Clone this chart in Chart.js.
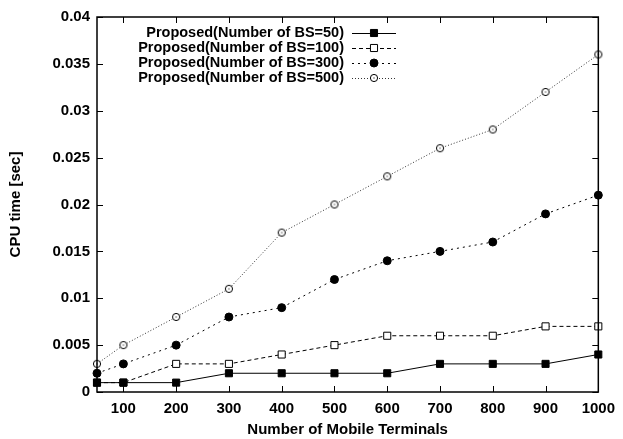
<!DOCTYPE html>
<html>
<head>
<meta charset="utf-8">
<script src="https://cdn.jsdelivr.net/npm/chart.js@4"></script>
<style>
  html, body { margin: 0; padding: 0; background: #fff; }
  #wrap { width: 623px; height: 439px; }
</style>
</head>
<body>
<div id="wrap"><canvas id="cpuChart" width="623" height="439"></canvas></div>
<script>
// data
const terminals = [50, 100, 200, 300, 400, 500, 600, 700, 800, 900, 1000];
const bs50  = [0.001, 0.001, 0.001, 0.002, 0.002, 0.002, 0.002, 0.003, 0.003, 0.003, 0.004];
const bs100 = [0.001, 0.001, 0.003, 0.003, 0.004, 0.005, 0.006, 0.006, 0.006, 0.007, 0.007];
const bs300 = [0.002, 0.003, 0.005, 0.008, 0.009, 0.012, 0.014, 0.015, 0.016, 0.019, 0.021];
const bs500 = [0.003, 0.005, 0.008, 0.011, 0.017, 0.020, 0.023, 0.026, 0.028, 0.032, 0.036];
const seriesNames = ["Proposed(Number of BS=50)", "Proposed(Number of BS=100)",
                     "Proposed(Number of BS=300)", "Proposed(Number of BS=500)"];
const xTicks = [100, 200, 300, 400, 500, 600, 700, 800, 900, 1000];
const yTicks = [0, 0.005, 0.01, 0.015, 0.02, 0.025, 0.03, 0.035, 0.04];

const FONT = "'Liberation Sans', Arial, sans-serif";

// open circle with a dot in the middle
function dotCircle() {
  const c = document.createElement("canvas");
  c.width = 10; c.height = 10;
  const g = c.getContext("2d");
  g.fillStyle = "#fff";
  g.strokeStyle = "#000";
  g.lineWidth = 1;
  g.beginPath(); g.arc(5, 5, 3.6, 0, Math.PI * 2); g.fill(); g.stroke();
  g.fillStyle = "#666";
  g.beginPath(); g.arc(5, 5, 0.8, 0, Math.PI * 2); g.fill();
  return c;
}

function pts(arr) {
  return arr.map((v, i) => ({ x: terminals[i], y: v }));
}

const ds = [
  { label: seriesNames[0], data: pts(bs50), borderColor: "#000", borderWidth: 1,
    pointStyle: "rect", pointRadius: 5, pointBackgroundColor: "#000", pointBorderColor: "#000", clip: false },
  { label: seriesNames[1], data: pts(bs100), borderColor: "#000", borderWidth: 1, borderDash: [4, 3],
    pointStyle: "rect", pointRadius: 5, pointBackgroundColor: "#fff", pointBorderColor: "#000", pointBorderWidth: 1, clip: false },
  { label: seriesNames[2], data: pts(bs300), borderColor: "#000", borderWidth: 1, borderDash: [2, 4],
    pointStyle: "circle", pointRadius: 4, pointBackgroundColor: "#000", pointBorderColor: "#000", clip: false },
  { label: seriesNames[3], data: pts(bs500), borderColor: "#333", borderWidth: 1, borderDash: [1, 2],
    pointStyle: dotCircle(), pointRadius: 4, clip: false }
];

// frame, inward ticks on all sides, and gnuplot-like key
const framePlugin = {
  id: "frame",
  afterDatasetsDraw(chart) {
    const { ctx, chartArea: a, scales } = chart;
    ctx.save();
    ctx.strokeStyle = "#000";
    ctx.lineWidth = 1.5;
    ctx.strokeRect(a.left, a.top, a.right - a.left, a.bottom - a.top);
    ctx.lineWidth = 1;
    ctx.beginPath();
    xTicks.forEach(t => {
      const px = Math.round(scales.x.getPixelForValue(t)) + 0.5;
      ctx.moveTo(px, a.bottom); ctx.lineTo(px, a.bottom - 6);
      ctx.moveTo(px, a.top); ctx.lineTo(px, a.top + 6);
    });
    yTicks.forEach(t => {
      const py = Math.round(scales.y.getPixelForValue(t)) + 0.5;
      ctx.moveTo(a.left, py); ctx.lineTo(a.left + 6, py);
      ctx.moveTo(a.right, py); ctx.lineTo(a.right - 6, py);
    });
    ctx.stroke();

    // key
    ctx.font = "bold 14.5px " + FONT;
    ctx.textAlign = "right";
    ctx.textBaseline = "middle";
    const rows = [33, 48, 63, 78];
    chart.data.datasets.forEach((d, i) => {
      const y = rows[i];
      ctx.fillStyle = "#000";
      ctx.fillText(d.label, 344, y);
      ctx.save();
      ctx.strokeStyle = d.borderColor;
      ctx.lineWidth = 1;
      ctx.setLineDash(d.borderDash || []);
      ctx.beginPath();
      ctx.moveTo(352, y + 0.5); ctx.lineTo(396, y + 0.5);
      ctx.stroke();
      ctx.restore();
      ctx.save();
      ctx.fillStyle = d.pointBackgroundColor || "#fff";
      ctx.strokeStyle = "#000";
      ctx.lineWidth = 1;
      Chart.helpers.drawPoint(ctx, {
        pointStyle: d.pointStyle, radius: d.pointRadius, rotation: 0, borderWidth: 1
      }, 374, y);
      ctx.restore();
    });
    ctx.restore();
  }
};

const tickFont = { family: FONT, size: 15, weight: "bold" };

new Chart(document.getElementById("cpuChart"), {
  type: "line",
  data: { datasets: ds },
  plugins: [framePlugin],
  options: {
    responsive: false,
    animation: false,
    layout: { padding: { top: 17, right: 21, left: 7, bottom: 0 } },
    plugins: { legend: { display: false }, tooltip: { enabled: false } },
    elements: { line: { tension: 0 } },
    scales: {
      x: {
        type: "linear", min: 50, max: 1000,
        afterBuildTicks: s => { s.ticks = xTicks.map(v => ({ value: v })); },
        grid: { display: false, drawTicks: false },
        border: { display: false },
        ticks: { color: "#000", font: tickFont, padding: 8, maxRotation: 0,
                 callback: v => String(v) },
        title: { display: true, text: "Number of Mobile Terminals", color: "#000",
                 font: tickFont, padding: { top: 6, bottom: 0 } },
        afterFit: s => { s.height = 47; }
      },
      y: {
        min: 0, max: 0.04,
        afterBuildTicks: s => { s.ticks = yTicks.map(v => ({ value: v })); },
        grid: { display: false, drawTicks: false },
        border: { display: false },
        ticks: { color: "#000", font: tickFont, padding: 7,
                 callback: v => String(+v.toFixed(3)) },
        title: { display: true, text: "CPU time [sec]", color: "#000",
                 font: tickFont, padding: { top: 0, bottom: 4 } },
        afterFit: s => { s.width = 90; }
      }
    }
  }
});
</script>
</body>
</html>
